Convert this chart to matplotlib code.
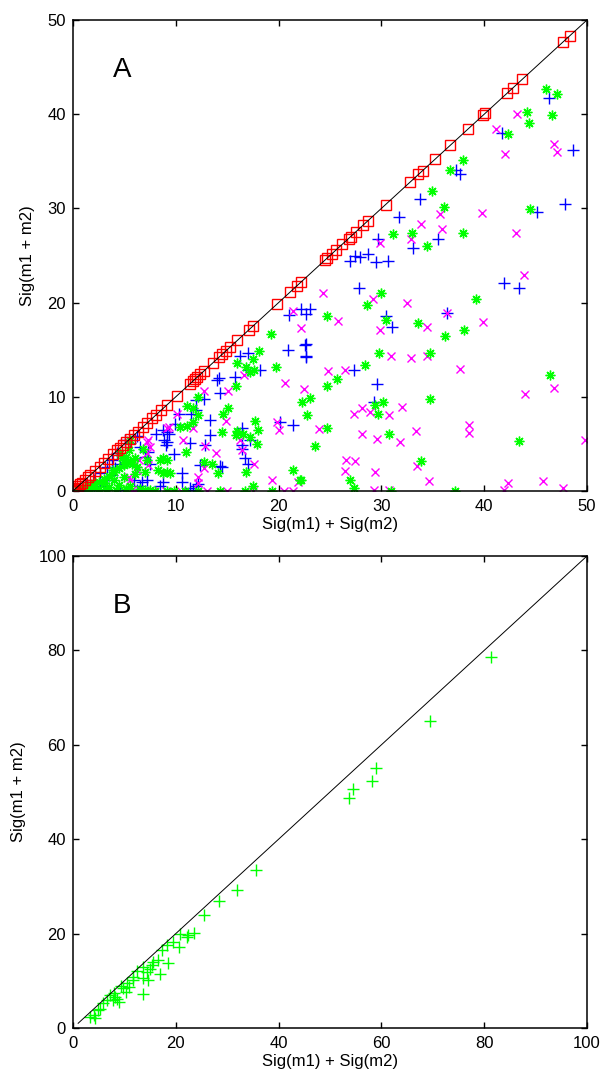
import matplotlib
matplotlib.use("Agg")
import matplotlib.pyplot as plt

plt.rcParams['font.family'] = ['Liberation Sans', 'DejaVu Sans']

# ---- panel A data ----
red_v = [0.0, 0.1, 0.2, 0.35, 0.5, 0.7, 0.9, 1.2, 1.5, 1.7, 2.1, 2.6, 3.0, 3.4, 3.9, 4.3,
         4.6, 4.9, 5.2, 5.5, 5.9, 6.3, 6.8, 7.2, 7.7, 8.1, 8.6, 9.1, 10.1, 11.4, 11.7, 11.9,
         12.1, 12.4, 12.7, 13.6, 14.2, 14.5, 14.9, 15.3, 16.0, 17.1, 17.5, 19.8, 21.1, 21.8,
         22.2, 24.5, 24.7, 25.2, 25.6, 26.2, 26.8, 27.0, 27.5, 28.2, 28.7, 30.4, 32.8, 33.6,
         34.0, 35.2, 36.7, 38.4, 39.9, 40.1, 42.2, 42.8, 43.7, 47.7, 48.3]

blue_x = [46.3, 41.7, 48.6, 37.3, 37.6, 33.8, 31.7, 47.9, 45.1, 29.7, 33.1, 35.5,
          26.9, 27.9, 28.7, 29.5, 30.6, 27.4, 27.8, 41.9, 43.4, 36.4, 30.4, 31.0, 27.3, 29.6,
          29.3, 23.1, 22.6, 22.7, 21.0, 22.2, 22.7, 20.9, 22.7, 22.7, 17.0, 16.2, 17.0, 18.2,
          14.2, 14.0, 15.8, 14.3, 12.7, 12.0, 10.3, 9.9, 9.1, 13.3, 21.4, 20.1, 13.3, 16.4,
          16.4, 17.2, 11.4, 8.9, 9.0, 12.8, 9.8, 16.7, 17.0, 12.4, 14.3, 10.6, 10.6, 12.2,
          11.7, 8.8, 11.5, 12.0, 8.1, 9.1, 16.4, 6.5, 7.3, 7.5, 7.2, 5.1, 5.5, 6.2, 4.3, 3.8,
          3.3, 2.6, 2.0, 1.3, 8.5, 6.5, 11.4, 12.0, 14.5, 7.0, 8.8, 9.3, 4.6, 4.1, 3.8, 5.9,
          6.7, 6.2, 4.6, 3.3, 2.6, 2.0, 1.3]
blue_y = [41.7, 38.0, 36.2, 34.1, 33.7, 31.0, 29.1, 30.5, 29.6, 26.7, 25.8, 26.7,
          24.4, 24.8, 25.2, 24.3, 24.4, 24.9, 21.5, 22.1, 21.5, 18.9, 18.6, 17.4, 12.8, 11.4,
          9.4, 19.3, 15.5, 14.3, 18.7, 19.3, 18.8, 15.0, 15.6, 14.2, 14.6, 14.3, 12.8, 12.8,
          12.0, 11.8, 12.1, 10.4, 9.8, 9.7, 8.2, 7.1, 6.3, 7.5, 7.0, 7.3, 5.9, 6.7,
          4.9, 5.4, 5.1, 5.4, 4.9, 4.9, 3.9, 3.5, 2.9, 2.8, 2.7, 1.9, 1.0, 0.7,
          0.1, 1.0, 8.2, 8.6, 6.1, 5.2, 4.5, 4.7, 4.1, 2.9, 1.2, 5.4, 5.1, 5.8, 4.0, 3.3,
          2.6, 1.9, 1.2, 0.6, 0.5, 0.5, 0.3, 0.5, 2.6, 3.6, 6.5, 6.1, 2.9, 2.4, 1.7, 1.2,
          1.0, 0.1, 0.1, 1.2, 0.5, 0.1, 0.0]

mag_x = [43.2, 41.1, 42.0, 46.8, 47.1, 39.8, 35.7, 33.9, 35.9, 43.1, 32.9, 29.9,
         43.9, 24.3, 29.2, 32.5, 36.4, 25.8, 29.9, 34.4, 39.9, 30.9, 32.9, 34.4, 37.6, 24.8,
         26.5, 46.8, 44.0, 27.3, 28.1, 28.9, 30.7, 32.0, 23.9, 28.1, 29.6, 31.8, 33.4, 38.5,
         38.5, 49.8, 27.4, 26.5, 29.4, 33.5, 34.6, 42.3, 45.7, 41.9, 47.7, 29.3, 30.7, 22.2,
         22.5, 21.4, 20.6, 12.7, 15.1, 16.6, 14.9, 19.8, 20.0, 10.7, 12.8, 13.9, 16.4, 17.6,
         12.2, 12.2, 19.4, 21.9, 21.4, 9.1, 26.6, 16.2, 12.7, 10.1, 11.7, 7.3, 7.2, 7.3, 6.2,
         5.5, 9.3, 7.2, 7.5, 6.4, 5.4, 5.7, 6.0, 7.8, 9.0, 10.5, 13.0, 15.0, 17.5, 20.5]
mag_y = [40.0, 38.4, 35.8, 36.8, 36.0, 29.5, 29.4, 28.3, 27.8, 27.4, 26.8, 26.3,
         22.9, 21.0, 20.4, 20.0, 18.9, 18.0, 17.1, 17.4, 17.9, 14.3, 14.1, 14.3, 13.0, 12.7,
         12.8, 10.9, 10.3, 8.2, 8.8, 8.4, 8.1, 8.9, 6.6, 6.1, 5.5, 5.2, 6.4, 7.0,
         6.2, 5.4, 3.2, 2.1, 2.0, 2.7, 1.1, 0.9, 1.1, 0.1, 0.35, 0.1, 0.1, 17.3,
         10.8, 19.1, 11.5, 10.6, 10.6, 12.3, 7.4, 7.3, 6.5, 5.4, 4.8, 4.0, 4.3, 2.9,
         1.5, 0.9, 1.2, 1.0, 0.0, 6.7, 3.3, 5.4, 2.4, 8.2, 6.7, 5.4, 4.0, 2.8, 2.2,
         1.2, 6.8, 5.2, 4.7, 3.3, 1.5, 0.1, 0.0, 0.0, 0.0, 0.0, 0.0, 0.0, 0.0, 0.0]

green_x = [46.0, 47.1, 44.2, 44.4, 46.6, 42.3, 37.9, 36.7, 34.9, 36.1, 44.5, 31.1, 33.0,
           37.9, 34.4, 30.0, 28.6, 39.2, 24.7, 30.4, 33.6, 38.0, 36.2, 29.8, 34.7, 28.4,
           25.7, 24.7, 46.4, 23.1, 22.3, 22.8, 30.2, 29.4, 29.7, 34.7, 24.7, 30.7, 23.5,
           43.4, 33.9, 26.9, 27.3, 30.9, 37.2, 22.2, 19.3, 18.1, 17.5, 16.0, 16.8, 17.2,
           17.6, 19.7, 15.9, 15.1, 14.6, 12.2, 11.1, 11.7, 12.2, 11.1, 11.7, 17.7, 18.0,
           17.9, 16.0, 15.9, 16.5, 17.2, 14.5, 11.0, 9.1, 8.8, 9.1, 9.4, 12.7, 13.5, 14.1,
           16.8, 21.4, 22.1, 17.5, 16.7, 14.3, 19.4, 9.1, 9.8, 10.9, 12.2, 5.5, 5.4, 4.6,
           5.2, 5.7, 6.8, 10.4, 7.2, 8.5, 8.3, 8.8, 0.5, 1.0, 1.5, 2.0, 2.5, 3.0, 3.5, 4.0,
           4.5, 5.0, 5.5, 1.5, 2.5, 3.5, 4.5, 3.0, 4.0, 5.0, 6.0, 5.5, 6.5, 7.0, 7.5, 8.0,
           6.0, 4.8, 6.2, 7.0, 2.0, 3.2, 4.2, 5.2, 3.9, 5.1]
green_y = [42.7, 42.1, 40.2, 39.1, 39.9, 37.9, 35.1, 34.1, 31.9, 30.2, 29.9, 27.3, 27.4,
           27.4, 26.0, 21.0, 19.7, 20.4, 18.6, 18.1, 17.8, 17.1, 16.5, 14.6, 14.7, 13.4,
           11.9, 11.1, 12.3, 9.9, 9.4, 8.1, 9.5, 9.1, 8.2, 9.8, 6.7, 6.1, 4.8,
           5.3, 3.2, 1.2, 0.3, 0.0, 0.0, 1.2, 16.7, 14.9, 14.0, 13.6, 13.2, 12.6,
           12.8, 13.2, 11.1, 8.8, 8.2, 10.0, 9.0, 8.8, 8.1, 6.9, 7.3, 7.4, 6.5,
           5.0, 6.4, 5.9, 6.1, 5.7, 6.3, 4.1, 3.3, 3.5, 2.0, 1.9, 3.1, 2.9, 1.9,
           2.0, 2.2, 1.2, 0.5, 0.0, 0.0, 0.0, 0.0, 0.0, 0.0, 0.0, 5.4, 4.4, 4.0,
           3.6, 2.9, 4.5, 6.8, 3.3, 3.3, 2.2, 1.9, 0.1, 0.3, 0.5, 0.8, 1.0, 1.3, 1.6, 2.0,
           2.4, 2.8, 3.2, 0.1, 0.2, 0.4, 0.6, 0.8, 1.2, 1.5, 1.8, 0.5, 0.2, 0.1, 0.1, 0.0,
           3.5, 3.5, 2.5, 2.0, 0.3, 0.1, 0.1, 0.2, 2.2, 3.0]

# ---- panel B data ----
b_x = [81.3, 69.5, 58.9, 58.1, 54.4, 53.6, 35.7, 32.0, 28.4, 25.4, 23.6, 22.4, 22.1, 20.8,
       20.7, 19.5, 18.2, 17.3, 18.4, 16.9, 16.6, 15.6, 15.3, 15.0, 14.3, 14.6, 13.7, 13.6,
       11.7, 11.6, 10.8, 10.4, 9.8, 9.0, 8.5, 7.8, 8.2, 7.2, 6.6, 5.9, 5.3, 4.9, 4.1, 3.3,
       4.3, 13.7, 12.5, 9.3, 8.0, 10.5]
b_y = [78.6, 65.1, 55.0, 52.4, 50.6, 48.7, 33.4, 29.2, 26.9, 24.0, 20.2, 19.7, 19.2, 19.9,
       17.2, 18.2, 17.5, 16.5, 13.7, 11.4, 14.4, 14.0, 13.3, 12.6, 11.9, 10.1, 10.5, 7.3,
       10.8, 10.1, 8.7, 7.6, 8.4, 5.5, 6.2, 5.9, 6.6, 6.9, 5.9, 5.2, 4.1, 3.8, 2.7, 2.3,
       2.1, 12.9, 12.0, 9.0, 7.5, 9.5]

W, H = 605, 1074
fig = plt.figure(figsize=(W / 100, H / 100), dpi=100)
axA = fig.add_axes([73 / W, 1 - 491 / H, 514 / W, 471 / H])
axB = fig.add_axes([73 / W, 1 - 1028 / H, 514 / W, 472 / H])

star = (8, 2, 0)
axA.plot(blue_x, blue_y, ls='none', marker='+', ms=8, mew=1, color=(0, 0, 1))
axA.plot(mag_x, mag_y, ls='none', marker='x', ms=6, mew=1, color=(1, 0, 1))
axA.plot(green_x, green_y, ls='none', marker=star, ms=7, mew=1, color=(0, 1, 0))
axA.plot(red_v, red_v, ls='none', marker='s', ms=7, mew=1, mfc='none', mec=(1, 0, 0))
axA.plot([0, 50], [0, 50], color='black', lw=0.7)
axA.set_xlim(0, 50)
axA.set_ylim(0, 50)
axA.set_xticks(range(0, 51, 10))
axA.set_yticks(range(0, 51, 10))
axA.text(3.9, 43.9, 'A', fontsize=20)

axB.plot(b_x, b_y, ls='none', marker='+', ms=8, mew=1, color=(0, 1, 0))
axB.plot([1, 100], [1, 100], color='black', lw=0.7)
axB.set_xlim(0, 100)
axB.set_ylim(0, 100)
axB.set_xticks(range(0, 101, 20))
axB.set_yticks(range(0, 101, 20))
axB.text(7.8, 88, 'B', fontsize=20)

for ax in (axA, axB):
    ax.tick_params(direction='in', length=4, width=1, labelsize=12,
                   top=True, right=True)
    ax.tick_params(axis='x', pad=6)
    ax.tick_params(axis='y', pad=5)
    for s in ax.spines.values():
        s.set_linewidth(1.1)
    ax.set_xlabel('Sig(m1) + Sig(m2)', fontsize=12, labelpad=2)
    ax.set_ylabel('Sig(m1 + m2)', fontsize=12, labelpad=9)

fig.savefig('out.png', dpi=100)
